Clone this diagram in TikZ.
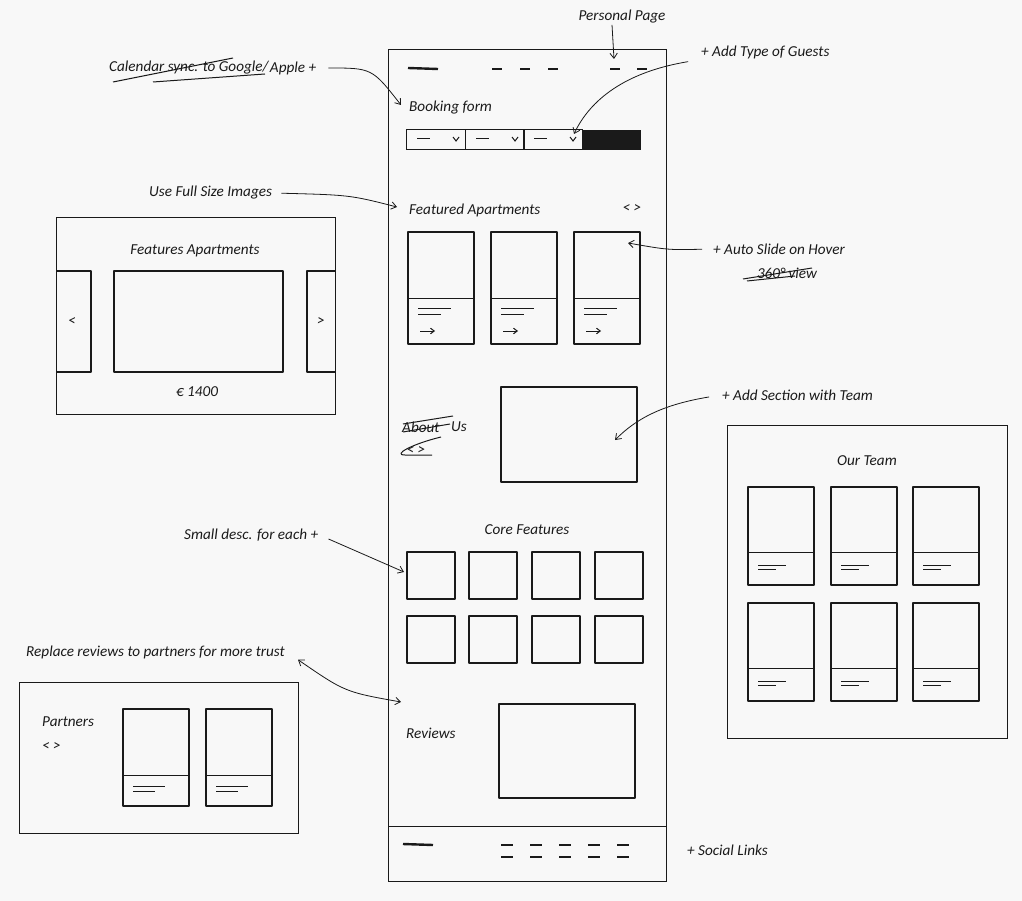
\documentclass[tikz,border=0pt]{standalone}
\usepackage{fontspec}
\setmainfont{Carlito}
\usetikzlibrary{arrows.meta,positioning}
\definecolor{Paper}{HTML}{F8F8F8}
\definecolor{Ink}{HTML}{1A1A1A}

\begin{document}
\begin{tikzpicture}[
  x=1pt,y=-1pt,
  every node/.style={font=\fontsize{15.2}{18}\selectfont\itshape,text=Ink,inner sep=1pt},
  frame/.style={draw=Ink,line width=1pt},
  sketch/.style={draw=Ink,line width=1.4pt,line join=round},
  textline/.style={draw=Ink,line width=1pt},
  navdash/.style={draw=Ink,line width=2.4pt},
  strike/.style={draw=Ink,line width=1pt},
  arr/.style={-{Straight Barb[length=1.8mm,width=2.6mm]},line width=0.8pt,draw=Ink},
  biarr/.style={{Straight Barb[length=1.8mm,width=2.6mm]}-{Straight Barb[length=1.8mm,width=2.6mm]},line width=0.8pt,draw=Ink}
]
% paper
\fill[Paper] (0,0) rectangle (1022,901);

% main page
\draw[frame] (388,50) rectangle (666,881);
\draw[frame] (388,826) -- (666,826);

% top nav
\draw[navdash] (408,68) -- (438,69);
\foreach \x in {492,520,548,610,637}
  \draw[navdash] (\x,69) -- (\x+10,69);
\coordinate (navpers) at (614,59);

% booking form
\node[anchor=west] (booking) at (408,108) {Booking form};
\foreach \x in {406,465,523}{
  \draw[frame] (\x,130) rectangle (\x+59,150);
  \draw[textline] (\x+11,139) -- (\x+24,139);
  \draw[textline] (\x+47,137) -- (\x+50,141) -- (\x+53,137);
}
\fill[Ink] (582,130) rectangle (641,150);
\coordinate (bookingend) at (401,105);
\coordinate (guestsel) at (574,134);

% featured apartments
\node[anchor=west] (featured) at (408,210) {Featured Apartments};
\node (featnav) at (632,209) {<\ >};
\foreach \x in {408,491,574}{
  \draw[sketch] (\x,232) rectangle (\x+66,344);
  \draw[frame] (\x,298) -- (\x+66,298);
  \draw[textline] (\x+10,308) -- (\x+43,308);
  \draw[textline] (\x+10,314) -- (\x+33,314);
  \draw[textline,-{Straight Barb[length=1.3mm,width=2mm]}] (\x+12,331) -- (\x+27,331);
}
\coordinate (featend) at (397,207);
\coordinate (slidecard) at (628,243);

% about us
\node[anchor=west] (about) at (401,427) {About};
\node[anchor=west] (us) at (450,427) {Us};
\draw[strike] (403,424) -- (453,416);
\draw[strike] (403,432) -- (450,424);
\node (aboutnav) at (416,451) {<\ >};
\draw[strike] (441,437) .. controls (412,444) and (392,455) .. (405,455) -- (432,455);
\draw[sketch] (501,387) rectangle (637,482);
\coordinate (teamslot) at (615,440);

% core features
\node (core) at (527,530) {Core Features};
\foreach \x in {407,469,532,595}
  \foreach \y in {552,616}
    \draw[sketch] (\x,\y) rectangle (\x+48,\y+47);
\coordinate (firstfeat) at (404,572);

% reviews
\node[anchor=west] (reviews) at (405,733) {Reviews};
\draw[sketch] (499,704) rectangle (635,798);
\coordinate (reviewtop) at (401,702);

% footer
\draw[navdash] (403,844) -- (433,845);
\foreach \x in {501,530,559,588,617}{
  \draw[navdash] (\x,845) -- (\x+12,845);
  \draw[navdash] (\x,857) -- (\x+12,857);
}

% slider mockup
\draw[frame] (56,218) rectangle (335,414);
\node (slidetitle) at (195,251) {Features Apartments};
\draw[sketch] (56,271) -- (91,271) -- (91,372) -- (56,372);
\draw[sketch] (114,271) rectangle (283,372);
\draw[sketch] (335,271) -- (307,271) -- (307,372) -- (335,372);
\node (prev) at (72,322) {<};
\node (next) at (321,322) {>};
\node (price) at (197,392) {€ 1400};

% team mockup
\draw[frame] (727,425) rectangle (1007,738);
\node (ourteam) at (867,461) {Our Team};
\foreach \x in {748,831,913}
  \foreach \y in {487,603}{
    \draw[sketch] (\x,\y) rectangle (\x+66,\y+98);
    \draw[frame] (\x,\y+65) -- (\x+66,\y+65);
    \draw[textline] (\x+10,\y+78) -- (\x+38,\y+78);
    \draw[textline] (\x+10,\y+82) -- (\x+28,\y+82);
  }

% partners mockup
\draw[frame] (19,682) rectangle (298,833);
\node[anchor=west] (partners) at (41,722) {Partners};
\node[anchor=west] (partnav) at (41,747) {<\ >};
\foreach \x in {123,206}{
  \draw[sketch] (\x,709) rectangle (\x+66,806);
  \draw[frame] (\x,775) -- (\x+66,775);
  \draw[textline] (\x+10,786) -- (\x+42,786);
  \draw[textline] (\x+10,791) -- (\x+32,791);
}

% notes
\node (personal) at (622,17) {Personal Page};
\draw[arr] ([xshift=-10pt]personal.south) -- (navpers);

\node[anchor=west] (calstrike) at (108,68) {Calendar sync. to Google/};
\node[anchor=west,inner sep=0pt] (calapple) at (calstrike.east) {Apple +};
\draw[strike] (113,82) -- (233,58);
\draw[strike] (153,82) -- (265,74);
\draw[arr,shorten <=12pt] (calapple.east) .. controls (372,68) .. (bookingend);

\node[anchor=west] (guests) at (700,52) {+ Add Type of Guests};
\draw[arr,shorten <=12pt] (guests.south west) .. controls (625,72) and (590,100) .. (guestsel);

\node[anchor=west] (fullsize) at (148,193) {Use Full Size Images};
\draw[arr,shorten <=8pt] (fullsize.east) .. controls (350,195) .. (featend);

\node[anchor=west] (autoslide) at (712,249) {+ Auto Slide on Hover};
\draw[arr,shorten <=10pt] (autoslide.west) .. controls (668,250) .. (slidecard);
\node (view) at (787,273) {360° view};
\draw[strike] (743,279) -- (812,268);
\draw[strike] (747,281) -- (795,276);

\node[anchor=west] (teamnote) at (721,395) {+ Add Section with Team};
\draw[arr,shorten <=12pt] (teamnote.west) .. controls (660,405) and (635,420) .. (teamslot);

\node[anchor=west] (smalldesc) at (183,535) {Small desc. for each +};
\draw[arr,shorten <=10pt] (smalldesc.east) -- (firstfeat);

\node[anchor=west] (replace) at (25,652) {Replace reviews to partners for more trust};
\draw[biarr] ([xshift=12pt]replace.south east) .. controls (345,692) .. (reviewtop);

\node[anchor=west] (social) at (686,850) {+ Social Links};
\end{tikzpicture}
\end{document}
